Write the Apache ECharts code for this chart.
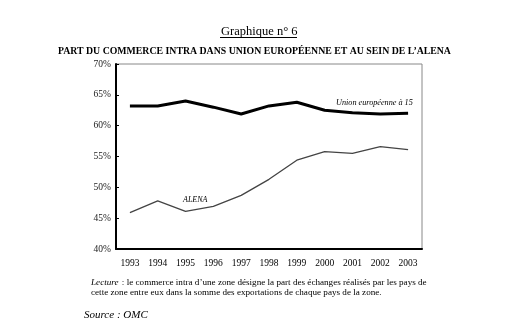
<!DOCTYPE html>
<html>
<head>
<meta charset="utf-8">
<script src="https://cdn.jsdelivr.net/npm/echarts@6/dist/echarts.min.js"></script>
<style>
html,body{margin:0;padding:0;background:#fff;}
#c{width:529px;height:333px;}
</style>
</head>
<body>
<div id="c"></div>
<script>
var years = ['1993','1994','1995','1996','1997','1998','1999','2000','2001','2002','2003'];
var ue15 = [63.2, 63.2, 64.0, 63.0, 61.9, 63.2, 63.8, 62.5, 62.1, 61.9, 62.0];
var alena = [45.9, 47.8, 46.1, 46.9, 48.7, 51.3, 54.4, 55.8, 55.5, 56.6, 56.1];
var yTicks = [40, 45, 50, 55, 60, 65, 70];

var serif = '"Liberation Serif", "DejaVu Serif", serif';
var chart = echarts.init(document.getElementById('c'), null, {renderer: 'canvas'});
chart.setOption({
  animation: false,
  backgroundColor: '#fff',
  title: [
    {text: 'Graphique n° 6', left: 216, top: 20,
     textStyle: {fontFamily: serif, fontSize: 12.5, fontWeight: 'normal', color: '#000'}},
    {text: 'PART DU COMMERCE INTRA DANS UNION EUROPÉENNE ET AU SEIN DE L\u2019ALENA', left: 53, top: 41,
     textStyle: {fontFamily: serif, fontSize: 9.8, fontWeight: 'bold', color: '#000'}}
  ],
  grid: {left: 116, top: 64, right: 107, bottom: 84, show: true, borderColor: '#888', borderWidth: 1},
  xAxis: {
    type: 'category', data: years, boundaryGap: true,
    axisLine: {lineStyle: {color: '#000', width: 2}},
    axisTick: {inside: true, length: 3, lineStyle: {color: '#000'}},
    axisLabel: {fontFamily: serif, fontSize: 9.5, color: '#000', margin: 9}
  },
  yAxis: {
    type: 'value', min: yTicks[0], max: yTicks[yTicks.length - 1], interval: 5,
    axisLine: {show: true, lineStyle: {color: '#000', width: 2}},
    axisTick: {show: true, inside: true, length: 3, lineStyle: {color: '#000'}},
    splitLine: {show: false},
    axisLabel: {fontFamily: serif, fontSize: 9.5, color: '#222', margin: 5,
      formatter: function (v) { return v + '%'; }}
  },
  series: [
    {name: 'Union européenne à 15', type: 'line', data: ue15, symbol: 'none',
     lineStyle: {color: '#000', width: 3}},
    {name: 'ALENA', type: 'line', data: alena, symbol: 'none',
     lineStyle: {color: '#444', width: 1.3}}
  ],
  graphic: [
    {type: 'line', shape: {x1: 220, y1: 37.5, x2: 297, y2: 37.5}, style: {stroke: '#000', lineWidth: 1}},
    {type: 'text', left: 336, top: 99,
     style: {text: 'Union européenne à 15', font: 'italic 8.2px ' + serif, fill: '#000'}},
    {type: 'text', left: 183, top: 196,
     style: {text: 'ALENA', font: 'italic 8px ' + serif, fill: '#000'}},
    {type: 'text', left: 91, top: 277,
     style: {rich: {i: {fontStyle: 'italic', fontFamily: serif, fontSize: 9.15}, n: {fontFamily: serif, fontSize: 9.15}},
       text: '{i|Lecture} {n|: le commerce intra d\u2019une zone désigne la part des échanges réalisés par les pays de}',
       fill: '#000'}},
    {type: 'text', left: 91, top: 288,
     style: {text: 'cette zone entre eux dans la somme des exportations de chaque pays de la zone.', font: '9.15px ' + serif, fill: '#000'}},
    {type: 'text', left: 84, top: 310,
     style: {text: 'Source : OMC', font: 'italic 11px ' + serif, fill: '#000'}}
  ]
});
</script>
</body>
</html>
